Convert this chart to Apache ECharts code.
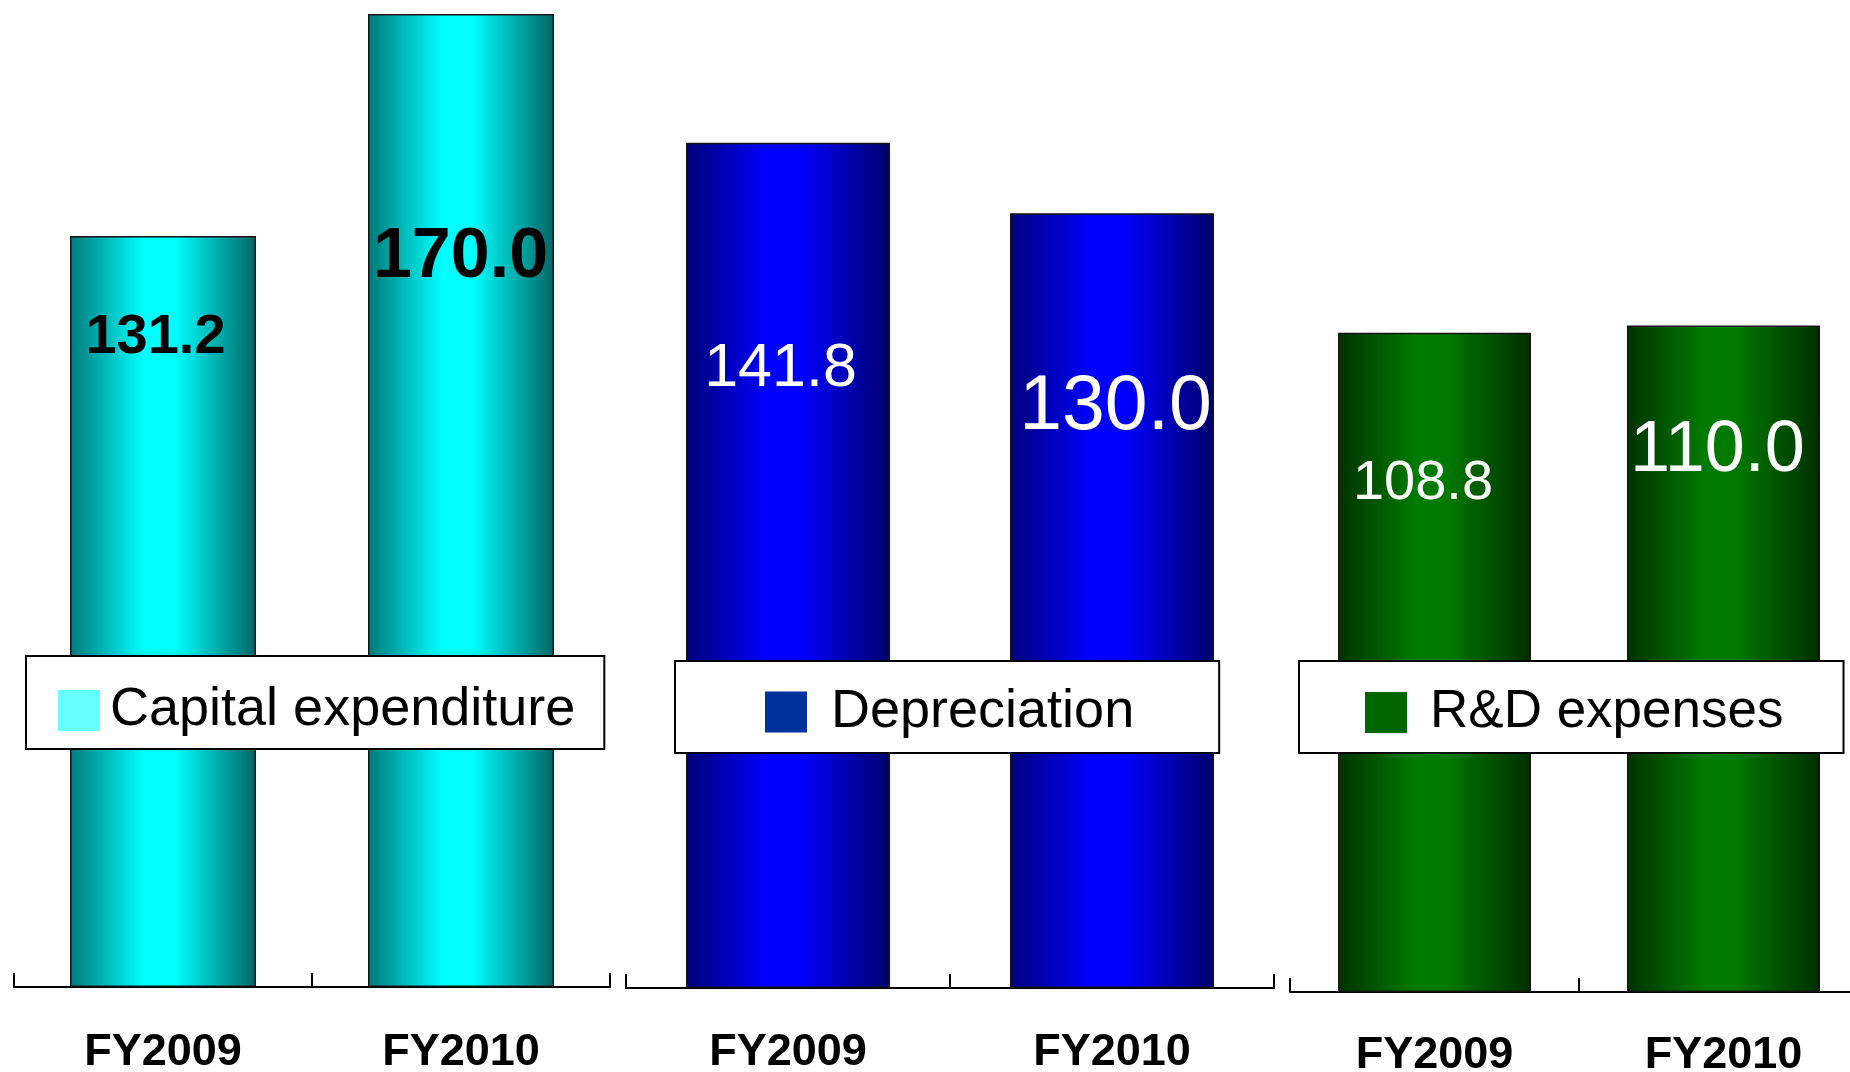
<!DOCTYPE html>
<html>
<head>
<meta charset="utf-8">
<title>Capital expenditure, Depreciation and R&amp;D expenses</title>
<script src="https://cdn.jsdelivr.net/npm/echarts@6/dist/echarts.min.js"></script>
<style>
  html, body { margin: 0; padding: 0; background: #ffffff; }
  #chart { width: 1850px; height: 1072px; }
</style>
</head>
<body>
<div id="chart"></div>
<script>
// Fiscal years shown under each group of bars
const categories = ['FY2009', 'FY2010'];

// Values (billions of yen)
const capexValues = [131.2, 170.0];
const depreciationValues = [141.8, 130.0];
const rdValues = [108.8, 110.0];

const seriesNames = ['Capital expenditure', 'Depreciation', 'R&D expenses'];

const FONT = '"Liberation Sans", Arial, sans-serif';

// Horizontal gradient that gives each bar its cylindrical look
function barGradient(edgeLeft, mid, edgeRight) {
  return new echarts.graphic.LinearGradient(0, 0, 1, 0, [
    { offset: 0, color: edgeLeft },
    { offset: 0.4, color: mid },
    { offset: 0.56, color: mid },
    { offset: 1, color: edgeRight }
  ]);
}

// One panel per measure: its own grid, axes, bar series and framed legend
const panels = [
  {
    name: seriesNames[0],
    values: capexValues,
    grid: { left: 14, width: 596, top: 14, bottom: 85 },
    yMax: 170,
    barWidth: 186,
    fill: barGradient('#007a7a', '#00ffff', '#006666'),
    labelColor: '#000000',
    labelWeight: 'bold',
    labelSizes: [56, 70],
    labelOffsets: [[-7.5, 101], [-0.5, 244]],
    axisLabelMargin: 66,
    legend: {
      left: 26, top: 656, padding: [27.5, 29, 11.5, 32],
      swatch: '#66ffff', fontSize: 54, textGap: 5
    }
  },
  {
    name: seriesNames[1],
    values: depreciationValues,
    grid: { left: 626, width: 648, top: 34.4, bottom: 84 },
    yMax: 160,
    barWidth: 204,
    fill: barGradient('#000078', '#0000ff', '#00006a'),
    labelColor: '#ffffff',
    labelWeight: 'normal',
    labelSizes: [61, 77],
    labelOffsets: [[-7.5, 226], [3.5, 195]],
    axisLabelMargin: 65,
    legend: {
      left: 675, top: 661, padding: [24, 85, 14, 90],
      swatch: '#003399', fontSize: 54, textGap: 19
    }
  },
  {
    name: seriesNames[2],
    values: rdValues,
    grid: { left: 1290, width: 578, top: 83, bottom: 80 },
    yMax: 150,
    barWidth: 193,
    fill: barGradient('#003300', '#007a00', '#002e00'),
    labelColor: '#ffffff',
    labelWeight: 'normal',
    labelSizes: [56, 72],
    labelOffsets: [[-11.5, 151], [-6, 126]],
    axisLabelMargin: 64,
    legend: {
      left: 1299, top: 661, padding: [25, 60, 14, 66],
      swatch: '#006600', fontSize: 53, textGap: 18
    }
  }
];

const option = {
  backgroundColor: '#ffffff',
  animation: false,
  grid: panels.map(p => Object.assign({ containLabel: false, outerBoundsMode: 'none' }, p.grid)),
  xAxis: panels.map((p, i) => ({
    type: 'category',
    gridIndex: i,
    data: categories,
    axisLine: { show: true, lineStyle: { color: '#000000', width: 2 } },
    axisTick: { show: true, inside: true, length: 14, lineStyle: { color: '#000000', width: 2 } },
    axisLabel: {
      color: '#000000',
      fontFamily: FONT,
      fontWeight: 'bold',
      fontSize: 45,
      margin: p.axisLabelMargin,
      verticalAlign: 'middle'
    },
    splitLine: { show: false }
  })),
  yAxis: panels.map((p, i) => ({
    type: 'value',
    gridIndex: i,
    min: 0,
    max: p.yMax,
    show: false,
    splitLine: { show: false }
  })),
  legend: panels.map(p => ({
    left: p.legend.left,
    top: p.legend.top,
    orient: 'horizontal',
    padding: p.legend.padding,
    backgroundColor: '#ffffff',
    borderColor: '#000000',
    borderWidth: 2,
    borderRadius: 0,
    selectedMode: false,
    icon: 'rect',
    itemWidth: 42,
    itemHeight: 41,
    textStyle: {
      color: '#000000',
      fontFamily: FONT,
      fontSize: p.legend.fontSize,
      padding: [10, 0, 0, p.legend.textGap]
    },
    data: [{ name: p.name, itemStyle: { color: p.legend.swatch, borderWidth: 0 } }]
  })),
  series: panels.map((p, i) => ({
    type: 'bar',
    name: p.name,
    xAxisIndex: i,
    yAxisIndex: i,
    barWidth: p.barWidth,
    itemStyle: {
      color: p.fill,
      borderColor: '#141414',
      borderWidth: 1.5
    },
    data: p.values.map((v, j) => ({
      value: v,
      label: {
        show: true,
        position: 'insideTop',
        distance: 0,
        verticalAlign: 'middle',
        offset: p.labelOffsets[j],
        formatter: params => params.value.toFixed(1),
        color: p.labelColor,
        fontFamily: FONT,
        fontWeight: p.labelWeight,
        fontSize: p.labelSizes[j]
      }
    }))
  }))
};

const chart = echarts.init(document.getElementById('chart'), null, { renderer: 'canvas' });
chart.setOption(option);
</script>
</body>
</html>
